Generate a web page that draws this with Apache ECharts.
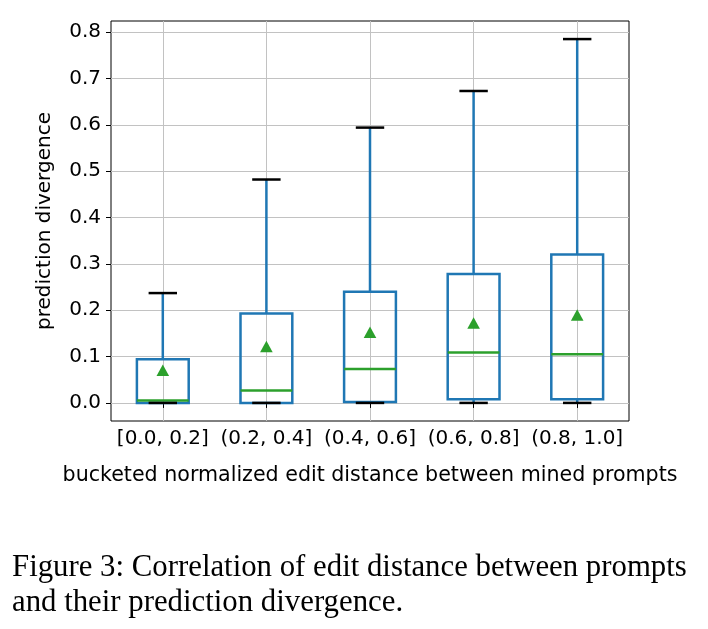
<!DOCTYPE html>
<html>
<head>
<meta charset="utf-8">
<script src="https://cdn.jsdelivr.net/npm/echarts@6/dist/echarts.min.js"></script>
<style>
html,body{margin:0;padding:0;background:#fff;}
#chart{width:708px;height:629px;}
</style>
</head>
<body>
<div id="chart"></div>
<script>
// ---- data ----
const categories = ['[0.0, 0.2]', '(0.2, 0.4]', '(0.4, 0.6]', '(0.6, 0.8]', '(0.8, 1.0]'];
const whiskerLow  = [0, 0, 0, 0, 0];
const q1          = [0, 0, 0.002, 0.008, 0.008];
const median      = [0.005, 0.027, 0.073, 0.109, 0.105];
const q3          = [0.094, 0.193, 0.240, 0.278, 0.320];
const whiskerHigh = [0.237, 0.482, 0.594, 0.673, 0.785];
const mean        = [0.070, 0.121, 0.152, 0.172, 0.189];
const yTicks = [0, 0.1, 0.2, 0.3, 0.4, 0.5, 0.6, 0.7, 0.8];
const xTicks = [1, 2, 3, 4, 5];
const yAxisTitle = 'prediction divergence';
const xAxisTitle = 'bucketed normalized edit distance between mined prompts';
const captionLines = ['Figure 3: Correlation of edit distance between prompts', 'and their prediction divergence.'];

const BLUE = '#1f77b4', GREEN = '#2ca02c';
const rows = categories.map((c, i) => [i + 1, whiskerLow[i], q1[i], median[i], q3[i], whiskerHigh[i], mean[i]]);

function renderItem(params, api) {
  const x = api.value(0);
  const lo = api.value(1), b1 = api.value(2), md = api.value(3), b3 = api.value(4), hi = api.value(5), mn = api.value(6);
  const hb = 0.25, hc = 0.125;
  const P = (xx, yy) => api.coord([xx, yy]);
  const line = (a, b, color, w, cap) => ({
    type: 'line',
    shape: { x1: a[0], y1: a[1], x2: b[0], y2: b[1] },
    style: { stroke: color, lineWidth: w, lineCap: cap || 'butt' }
  });
  const tl = P(x - hb, b3), br = P(x + hb, b1);
  const m = P(x, mn);
  const children = [
    line(P(x, b3), P(x, hi), BLUE, 2.5),
    line(P(x, lo), P(x, b1), BLUE, 2.5),
    { type: 'rect', shape: { x: tl[0], y: tl[1], width: br[0] - tl[0], height: br[1] - tl[1] },
      style: { fill: 'none', stroke: BLUE, lineWidth: 2.5 } },
    line(P(x - hb, md), P(x + hb, md), GREEN, 2.5),
    line(P(x - hc, hi), P(x + hc, hi), '#000', 2.5, 'square'),
    line(P(x - hc, lo), P(x + hc, lo), '#000', 2.5, 'square'),
    { type: 'polygon', shape: { points: [[m[0], m[1] - 6], [m[0] - 6.3, m[1] + 5.5], [m[0] + 6.3, m[1] + 5.5]] },
      style: { fill: GREEN, stroke: 'none' } }
  ];
  return { type: 'group', children };
}

const chart = echarts.init(document.getElementById('chart'), null, { renderer: 'canvas' });
const FONT = 'DejaVu Sans';
chart.setOption({
  animation: false,
  backgroundColor: '#fff',
  grid: { left: 111, top: 21, width: 518, height: 400, show: true, borderColor: '#000', borderWidth: 1, backgroundColor: 'transparent' },
  xAxis: {
    type: 'value', min: 0.5, max: 5.5,
    axisLine: { show: false },
    axisTick: { show: true, length: 5, lineStyle: { color: '#000', width: 1 }, customValues: xTicks },
    axisLabel: { customValues: xTicks, formatter: v => categories[Math.round(v) - 1] || '', fontFamily: FONT, fontSize: 20, color: '#000', margin: 8 },
    splitLine: { show: true, lineStyle: { color: '#c2c2c2', width: 1 } },
    name: xAxisTitle, nameLocation: 'middle', nameGap: 44,
    nameTextStyle: { fontFamily: FONT, fontSize: 20.6, color: '#000' }
  },
  yAxis: {
    type: 'value', min: -0.039, max: 0.824,
    axisLine: { show: false },
    axisTick: { show: true, length: 5, lineStyle: { color: '#000', width: 1 }, customValues: yTicks },
    axisLabel: { customValues: yTicks, formatter: v => v.toFixed(1), fontFamily: FONT, fontSize: 20, color: '#000', margin: 10 },
    splitLine: { show: true, lineStyle: { color: '#c2c2c2', width: 1 } },
    name: yAxisTitle, nameLocation: 'middle', nameGap: 56,
    nameTextStyle: { fontFamily: FONT, fontSize: 20, color: '#000' }
  },
  series: [{
    type: 'custom',
    renderItem,
    data: rows,
    encode: { x: 0, y: [1, 2, 3, 4, 5, 6] },
    clip: false,
    z: 5
  }],
  graphic: captionLines.map((t, i) => ({
    type: 'text', left: 12, top: 552 + i * 35,
    style: { text: t, font: '30.8px "Liberation Serif"', fill: '#000' }
  }))
});
</script>
</body>
</html>
